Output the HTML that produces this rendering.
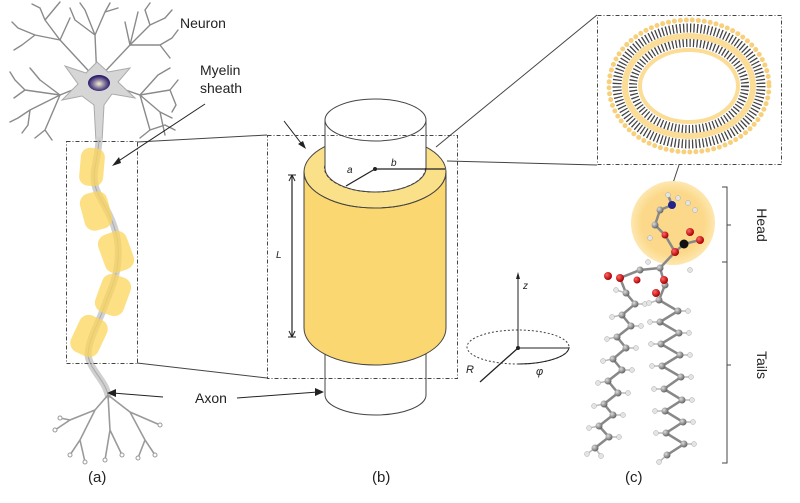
<!DOCTYPE html>
<html><head><meta charset="utf-8"><style>
html,body{margin:0;padding:0;background:#fff}
svg{display:block}
text{font-family:"Liberation Sans",sans-serif}
</style></head><body>
<svg width="800" height="503" viewBox="0 0 800 503" xmlns="http://www.w3.org/2000/svg">
<defs>
<radialGradient id="nuc" cx="50%" cy="55%" r="50%"><stop offset="0" stop-color="#f4f0d0"/><stop offset="0.5" stop-color="#8a7fa0"/><stop offset="1" stop-color="#2a1a6a"/></radialGradient>
<radialGradient id="head" cx="50%" cy="50%" r="50%"><stop offset="0.75" stop-color="#fcd98a"/><stop offset="1" stop-color="#fde7b0"/></radialGradient>
<radialGradient id="cball" cx="35%" cy="35%" r="65%"><stop offset="0" stop-color="#ddd"/><stop offset="1" stop-color="#666"/></radialGradient>
<radialGradient id="oball" cx="35%" cy="35%" r="65%"><stop offset="0" stop-color="#f66"/><stop offset="1" stop-color="#a00"/></radialGradient>
</defs>

<!-- Neuron dendrites -->
<g stroke="#8a8a8a" stroke-width="1.4" fill="none" stroke-linecap="round">
<path d="M97 80 L60 40 L45 20 M60 40 L35 35 M45 20 L40 8 M45 20 L55 8 M35 35 L18 28 M35 35 L22 45 M40 8 L32 4 M55 8 L60 2 M18 28 L12 22 M22 45 L14 50"/>
<path d="M97 80 L95 35 L85 10 M95 35 L105 12 M85 10 L80 3 M105 12 L110 3 M95 35 L75 20 M75 20 L70 8 M105 12 L118 8"/>
<path d="M97 80 L130 45 L150 25 M130 45 L160 45 M150 25 L145 10 M150 25 L165 18 M160 45 L172 38 M160 45 L170 58 M130 45 L125 22 M145 10 L150 3 M165 18 L172 10 M172 38 L178 30"/>
<path d="M97 80 L60 95 L25 90 M60 95 L30 110 M25 90 L15 80 M25 90 L14 98 M30 110 L18 118 M30 110 L28 125 M60 95 L45 130 M45 130 L35 138 M15 80 L10 72 M18 118 L10 122 M28 125 L22 133 M45 130 L52 140"/>
<path d="M97 80 L140 95 L170 90 M140 95 L150 130 M170 90 L178 80 M170 90 L176 105 M150 130 L140 138 M150 130 L165 125 M140 95 L160 112 M160 112 L172 118 M160 112 L165 135 M165 125 L175 130 M176 105 L172 112"/>
<path d="M60 40 L70 18 M130 45 L138 12 M60 95 L40 80 M40 80 L30 68 M140 95 L158 75 M158 75 L170 68"/>
</g>
<path d="M97 62 L108 72 L130 68 L118 82 L135 98 L112 94 L104 105 L102 142 L96 142 L94 105 L82 96 L62 100 L78 84 L65 66 L86 73 Z" fill="#d6d6d6" stroke="#aaa" stroke-width="1"/>
<ellipse cx="99" cy="83" rx="11" ry="8" fill="url(#nuc)"/>

<!-- axon -->
<path d="M99 140 C98 160 92 170 95 185 C98 200 115 215 118 245 C120 275 110 290 105 305 C100 320 88 340 88 355 C90 370 105 380 108 395" fill="none" stroke="#d0d0d0" stroke-width="7" stroke-linecap="round"/>
<path d="M99 140 C98 160 92 170 95 185 C98 200 115 215 118 245 C120 275 110 290 105 305 C100 320 88 340 88 355 C90 370 105 380 108 395" fill="none" stroke="#aaa" stroke-width="1"/>
<!-- myelin segments -->
<g fill="#fcd55a" fill-opacity="0.75">
<rect x="80" y="148" width="24" height="38" rx="9" transform="rotate(5 92 167)"/>
<rect x="82" y="192" width="28" height="38" rx="10" transform="rotate(-15 96 211)"/>
<rect x="101" y="232" width="30" height="40" rx="10" transform="rotate(-20 116 252)"/>
<rect x="98" y="275" width="30" height="40" rx="10" transform="rotate(20 113 295)"/>
<rect x="74" y="316" width="30" height="40" rx="10" transform="rotate(25 89 336)"/>
</g>
<!-- axon terminal -->
<g stroke="#9a9a9a" stroke-width="1.6" fill="none" stroke-linecap="round">
<path d="M108 395 L95 410 L70 420 L55 430 M95 410 L80 440 L70 455 M108 395 L110 430 L105 460 M110 430 L122 455 M108 395 L130 412 L160 425 M130 412 L145 440 L155 455 M70 420 L60 418 M80 440 L85 462 M145 440 L138 458"/>
</g>
<g fill="#fff" stroke="#999" stroke-width="1">
<circle cx="55" cy="430" r="2"/><circle cx="60" cy="418" r="2"/><circle cx="70" cy="455" r="2"/><circle cx="85" cy="462" r="2"/><circle cx="105" cy="460" r="2"/><circle cx="122" cy="455" r="2"/><circle cx="138" cy="458" r="2"/><circle cx="155" cy="455" r="2"/><circle cx="160" cy="425" r="2"/>
</g>

<!-- dashed box a -->
<rect x="66.5" y="141.5" width="71" height="222" fill="none" stroke="#444" stroke-width="1" stroke-dasharray="4 2 1 2"/>
<line x1="137" y1="142" x2="267" y2="135" stroke="#444"/>
<line x1="137" y1="363" x2="267" y2="378" stroke="#444"/>

<!-- labels -->
<text x="180" y="28" font-size="14" fill="#222">Neuron</text>
<text x="200" y="75" font-size="14" fill="#222">Myelin</text>
<text x="200" y="93" font-size="14" fill="#222">sheath</text>
<line x1="205" y1="104" x2="117" y2="162" stroke="#222"/>
<path d="M112 166 L119 157 L121 163 Z" fill="#222"/>
<text x="195" y="403" font-size="14" fill="#222">Axon</text>
<line x1="163" y1="397" x2="113" y2="393" stroke="#222"/>
<path d="M107 393 L116 389 L116 397 Z" fill="#222"/>
<line x1="237" y1="398" x2="318" y2="392" stroke="#222"/>
<path d="M324 392 L315 388 L315 396 Z" fill="#222"/>
<text x="88" y="482" font-size="15" fill="#222">(a)</text>
<text x="372" y="482" font-size="15" fill="#222">(b)</text>
<text x="625" y="482" font-size="15" fill="#222">(c)</text>

<!-- cylinder b -->
<path d="M325 395 L325 340 M426 340 L426 395" stroke="#444" fill="none"/>
<path d="M325 395 A50.5 20 0 0 0 426 395" stroke="#444" fill="none"/>
<path d="M304 172 L304 328 A71 37 0 0 0 446 328 L446 172 Z" fill="#fad770" stroke="#444"/>
<ellipse cx="375" cy="172" rx="71" ry="36" fill="#fbe08a" stroke="#444"/>
<path d="M304 172 A71 36 0 0 0 446 172" fill="none" stroke="#444"/>
<ellipse cx="375" cy="168" rx="50.5" ry="24" fill="#fff" stroke="#444" stroke-dasharray="3 2"/>
<path d="M325 168 A50.5 24 0 0 0 426 168" fill="none" stroke="#444"/>
<rect x="325" y="120" width="101" height="48" fill="#fff"/>
<path d="M325 168 L325 120 M426 120 L426 168" stroke="#444" fill="none"/>
<ellipse cx="375.5" cy="120" rx="50.5" ry="21" fill="#fff" stroke="#444"/>
<line x1="375" y1="169" x2="346" y2="186" stroke="#222" stroke-width="1.3"/>
<circle cx="375" cy="169" r="2" fill="#222"/>
<line x1="375" y1="169" x2="445" y2="169" stroke="#222" stroke-width="1.3"/>
<text x="347" y="173" font-size="10" font-style="italic" font-family="Liberation Serif" fill="#222">a</text>
<text x="391" y="166" font-size="10" font-style="italic" font-family="Liberation Serif" fill="#222">b</text>
<line x1="292" y1="175" x2="292" y2="337" stroke="#222" stroke-width="1.2"/>
<path d="M288 175 L296 175 M288 337 L296 337" stroke="#222"/>
<path d="M292 175 L289 181 M292 175 L295 181 M292 337 L289 331 M292 337 L295 331" stroke="#222"/>
<text x="276" y="258" font-size="10" font-style="italic" font-family="Liberation Serif" fill="#222">L</text>
<line x1="284" y1="121" x2="304" y2="147" stroke="#222"/>
<path d="M306 149 L298 144 L303 141 Z" fill="#222"/>
<!-- dashed box b -->
<rect x="267.5" y="135.5" width="190" height="243" fill="none" stroke="#444" stroke-dasharray="4 2 1 2"/>
<line x1="436" y1="147" x2="597" y2="15" stroke="#444"/>
<line x1="447" y1="161" x2="597" y2="165" stroke="#444"/>

<!-- axes -->
<ellipse cx="518" cy="347" rx="51" ry="17" fill="none" stroke="#444" stroke-dasharray="2 2"/>
<path d="M518 364 A51 17 0 0 0 569 347" fill="none" stroke="#222"/>
<line x1="518" y1="348" x2="518" y2="274" stroke="#222"/>
<path d="M518 272 L516 279 L520 279 Z" fill="#222"/>
<line x1="518" y1="348" x2="568" y2="348" stroke="#222"/>
<line x1="518" y1="348" x2="480" y2="382" stroke="#222" stroke-width="1.3"/>
<circle cx="518" cy="348" r="2" fill="#222"/>
<text x="523" y="289" font-size="10" font-style="italic" fill="#222">z</text>
<text x="466" y="373" font-size="11" font-style="italic" fill="#222">R</text>
<text x="536" y="375" font-size="11" font-style="italic" fill="#222">φ</text>

<!-- box c with vesicle -->
<rect x="597.5" y="15.5" width="184" height="149" fill="none" stroke="#444" stroke-dasharray="4 2 1 2"/>
<g fill="none" stroke-linecap="round">
<ellipse cx="689" cy="86" rx="80" ry="66" stroke="#f8cf7a" stroke-width="5" stroke-dasharray="0 6"/>
<ellipse cx="689" cy="86" rx="72" ry="58" stroke="#444" stroke-width="9" stroke-dasharray="1.3 2.2" stroke-linecap="butt"/>
<ellipse cx="689" cy="86" rx="64" ry="50" stroke="#fbdd97" stroke-width="6"/>
<ellipse cx="689" cy="86" rx="56" ry="43" stroke="#444" stroke-width="8" stroke-dasharray="1.3 2.2" stroke-linecap="butt"/>
<ellipse cx="689" cy="86" rx="49" ry="36" stroke="#fbdd97" stroke-width="4"/>
</g>
<line x1="679" y1="165" x2="673" y2="183" stroke="#444"/>

<!-- head circle -->
<circle cx="673" cy="223" r="42" fill="url(#head)"/>
<!-- brackets -->
<g stroke="#444" fill="none">
<path d="M722 187 L727 187 L727 463 L722 463"/>
<path d="M727 262 L722 262 M727 225 L731 225 M727 365 L731 365"/>
</g>
<text transform="translate(757,225) rotate(90)" font-size="14" text-anchor="middle" fill="#222">Head</text>
<text transform="translate(757,365) rotate(90)" font-size="14" text-anchor="middle" fill="#222">Tails</text>

<!-- molecule bonds -->
<g stroke="#888" stroke-width="2.5" fill="none">
<polyline points="626,293 635,304 622,315 631,326 617,337 626,348 613,359 622,370 608,381 618,393 604,404 613,415 599,426 609,437 595,448"/>
<polyline points="659,300 678,311 660,322 679,333 661,344 680,355 662,366 681,377 664,389 682,400 665,411 683,422 666,433 684,444 667,455"/>
<polyline points="626,293 620,278 640,270 660,268 665,285 659,300"/>
<polyline points="660,268 675,252 684,244 700,240 M684,244 690,232 M684,244 670,238"/>
<polyline points="675,252 665,235 655,225 660,210 672,205 668,195 M672,205 688,203"/>
</g>
<g stroke="#bbb" stroke-width="1.5">
<path d="M626,293 l-10,-3 M635,304 l10,0 M622,315 l-10,2 M631,326 l10,0 M617,337 l-10,2 M626,348 l10,0 M613,359 l-10,2 M622,370 l10,0 M608,381 l-10,2 M618,393 l10,0 M604,404 l-10,2 M613,415 l10,0 M599,426 l-10,2 M609,437 l10,0 M595,448 l-8,6 M595,448 l6,8"/>
<path d="M659,300 l-10,3 M678,311 l10,0 M660,322 l-10,0 M679,333 l10,0 M661,344 l-10,0 M680,355 l10,0 M662,366 l-10,0 M681,377 l10,0 M664,389 l-10,0 M682,400 l10,0 M665,411 l-10,0 M683,422 l10,0 M666,433 l-10,0 M684,444 l10,0 M667,455 l-8,7"/>
</g>
<g fill="#e4e4e4" stroke="#aaa" stroke-width="0.5">
<circle cx="616" cy="290" r="2.5"/><circle cx="645" cy="304" r="2.5"/><circle cx="612" cy="317" r="2.5"/><circle cx="641" cy="326" r="2.5"/><circle cx="607" cy="339" r="2.5"/><circle cx="636" cy="348" r="2.5"/><circle cx="603" cy="361" r="2.5"/><circle cx="632" cy="370" r="2.5"/><circle cx="598" cy="383" r="2.5"/><circle cx="628" cy="393" r="2.5"/><circle cx="594" cy="406" r="2.5"/><circle cx="623" cy="415" r="2.5"/><circle cx="589" cy="428" r="2.5"/><circle cx="619" cy="437" r="2.5"/><circle cx="587" cy="454" r="2.5"/><circle cx="601" cy="456" r="2.5"/>
<circle cx="649" cy="303" r="2.5"/><circle cx="688" cy="311" r="2.5"/><circle cx="650" cy="322" r="2.5"/><circle cx="689" cy="333" r="2.5"/><circle cx="651" cy="344" r="2.5"/><circle cx="690" cy="355" r="2.5"/><circle cx="652" cy="366" r="2.5"/><circle cx="691" cy="377" r="2.5"/><circle cx="654" cy="389" r="2.5"/><circle cx="692" cy="400" r="2.5"/><circle cx="655" cy="411" r="2.5"/><circle cx="693" cy="422" r="2.5"/><circle cx="656" cy="433" r="2.5"/><circle cx="694" cy="444" r="2.5"/><circle cx="659" cy="462" r="2.5"/>
<circle cx="655" cy="225" r="2.5"/><circle cx="660" cy="210" r="2.5"/><circle cx="668" cy="195" r="2.5"/><circle cx="688" cy="203" r="2.5"/><circle cx="650" cy="238" r="2.5"/><circle cx="695" cy="210" r="2.5"/><circle cx="678" cy="198" r="2.5"/><circle cx="690" cy="270" r="2.5"/><circle cx="648" cy="262" r="2.5"/>
</g>
<g fill="url(#cball)">
<circle cx="626" cy="293" r="3.5"/><circle cx="635" cy="304" r="3.5"/><circle cx="622" cy="315" r="3.5"/><circle cx="631" cy="326" r="3.5"/><circle cx="617" cy="337" r="3.5"/><circle cx="626" cy="348" r="3.5"/><circle cx="613" cy="359" r="3.5"/><circle cx="622" cy="370" r="3.5"/><circle cx="608" cy="381" r="3.5"/><circle cx="618" cy="393" r="3.5"/><circle cx="604" cy="404" r="3.5"/><circle cx="613" cy="415" r="3.5"/><circle cx="599" cy="426" r="3.5"/><circle cx="609" cy="437" r="3.5"/><circle cx="595" cy="448" r="3.5"/>
<circle cx="659" cy="300" r="3.5"/><circle cx="678" cy="311" r="3.5"/><circle cx="660" cy="322" r="3.5"/><circle cx="679" cy="333" r="3.5"/><circle cx="661" cy="344" r="3.5"/><circle cx="680" cy="355" r="3.5"/><circle cx="662" cy="366" r="3.5"/><circle cx="681" cy="377" r="3.5"/><circle cx="664" cy="389" r="3.5"/><circle cx="682" cy="400" r="3.5"/><circle cx="665" cy="411" r="3.5"/><circle cx="683" cy="422" r="3.5"/><circle cx="666" cy="433" r="3.5"/><circle cx="684" cy="444" r="3.5"/><circle cx="667" cy="455" r="3.5"/>
<circle cx="640" cy="270" r="3.5"/><circle cx="660" cy="268" r="3.5"/><circle cx="665" cy="285" r="3.5"/><circle cx="655" cy="225" r="3.5"/><circle cx="660" cy="210" r="3.5"/><circle cx="672" cy="205" r="3.5"/>
</g>
<g fill="url(#oball)">
<circle cx="620" cy="278" r="4"/><circle cx="608" cy="276" r="4"/><circle cx="637" cy="280" r="3.5"/><circle cx="664" cy="280" r="4"/><circle cx="656" cy="293" r="4"/><circle cx="675" cy="252" r="4"/><circle cx="700" cy="240" r="4"/><circle cx="690" cy="232" r="4"/><circle cx="665" cy="235" r="3.5"/>
</g>
<circle cx="684" cy="244" r="4.5" fill="#111"/>
<circle cx="672" cy="205" r="4" fill="#22238a"/>
</svg>
</body></html>
